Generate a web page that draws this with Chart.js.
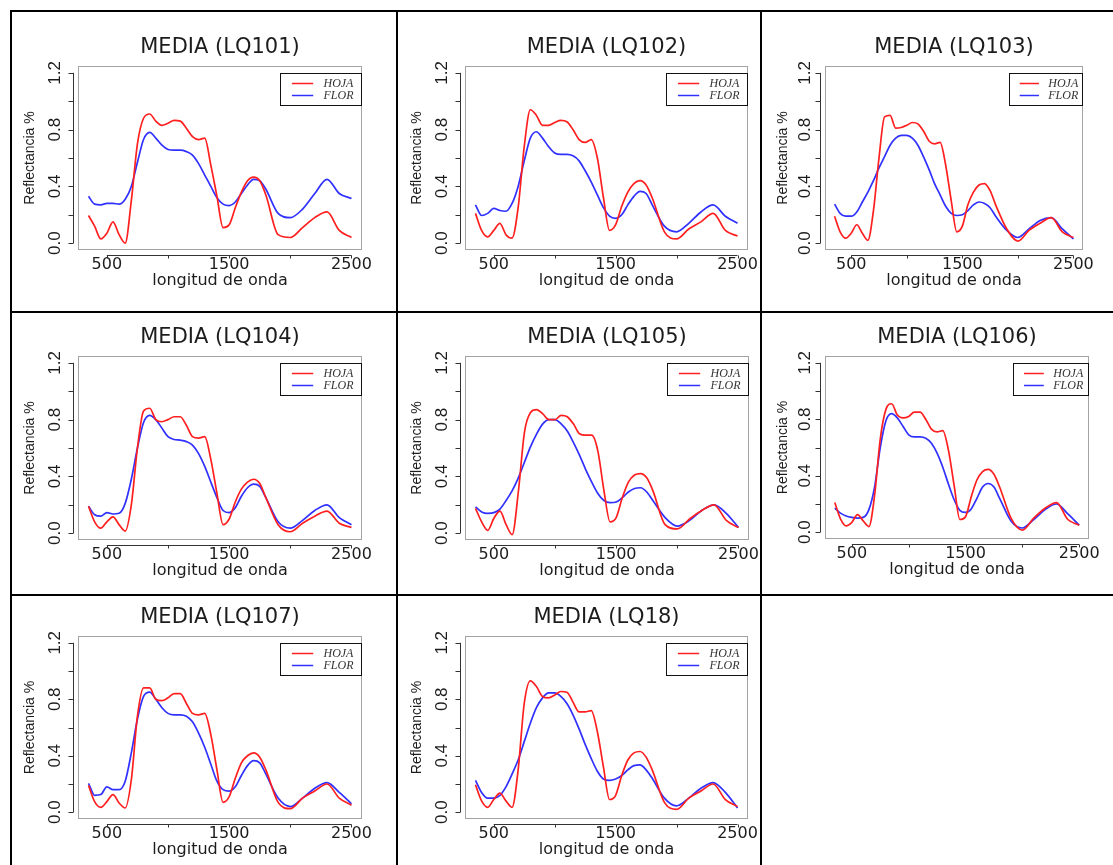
<!DOCTYPE html>
<html lang="es">
<head>
<meta charset="utf-8">
<title>Reflectancia media - HOJA / FLOR</title>
<script src="https://cdn.jsdelivr.net/npm/chart.js@4.4.1/dist/chart.umd.min.js"></script>
<style>
    html, body { margin: 0; padding: 0; background: #fff; }
    #lamina { position: relative; width: 1113px; height: 865px; overflow: hidden; background: #fff; }
    .linea { position: absolute; background: #000; }
</style>
</head>
<body>
<div id="lamina"></div>
<script>
// Longitudes de onda (nm) donde se leyeron los valores
const longitudes = [350, 400, 450, 500, 550, 600, 650, 700, 750, 800,
    850, 900, 950, 1000, 1050, 1100, 1150, 1200, 1250, 1300,
    1350, 1400, 1450, 1500, 1550, 1600, 1650, 1700, 1750, 1800,
    1900, 2000, 2100, 2200, 2300, 2400, 2500];

// Reflectancia media por muestra (HOJA = rojo, FLOR = azul)
const hojaLQ101 = [0.195, 0.12, 0.03, 0.07, 0.15, 0.06, 0.0, 0.30, 0.70, 0.88, 0.91, 0.86, 0.83, 0.845, 0.865, 0.86, 0.81, 0.75, 0.73, 0.74, 0.55, 0.33, 0.11, 0.13, 0.25, 0.36, 0.44, 0.465, 0.44, 0.34, 0.06, 0.04, 0.11, 0.18, 0.22, 0.09, 0.04];
const florLQ101 = [0.33, 0.275, 0.27, 0.28, 0.28, 0.275, 0.31, 0.40, 0.57, 0.73, 0.78, 0.74, 0.69, 0.66, 0.655, 0.655, 0.645, 0.62, 0.56, 0.48, 0.40, 0.32, 0.275, 0.265, 0.29, 0.35, 0.41, 0.45, 0.44, 0.38, 0.21, 0.18, 0.24, 0.35, 0.45, 0.35, 0.315];
const hojaLQ102 = [0.21, 0.09, 0.045, 0.09, 0.14, 0.06, 0.035, 0.25, 0.68, 0.94, 0.90, 0.83, 0.83, 0.85, 0.865, 0.855, 0.80, 0.73, 0.71, 0.73, 0.60, 0.32, 0.09, 0.13, 0.26, 0.36, 0.42, 0.44, 0.41, 0.32, 0.08, 0.03, 0.10, 0.15, 0.21, 0.09, 0.05];
const florLQ102 = [0.27, 0.195, 0.21, 0.245, 0.23, 0.225, 0.28, 0.40, 0.58, 0.74, 0.785, 0.74, 0.68, 0.635, 0.625, 0.625, 0.615, 0.58, 0.51, 0.43, 0.34, 0.25, 0.19, 0.175, 0.20, 0.27, 0.33, 0.365, 0.35, 0.27, 0.12, 0.08, 0.14, 0.22, 0.27, 0.19, 0.14];
const hojaLQ103 = [0.19, 0.08, 0.035, 0.07, 0.13, 0.07, 0.02, 0.23, 0.60, 0.89, 0.90, 0.81, 0.815, 0.83, 0.85, 0.84, 0.79, 0.72, 0.70, 0.71, 0.55, 0.30, 0.08, 0.12, 0.27, 0.36, 0.41, 0.42, 0.37, 0.27, 0.10, 0.015, 0.09, 0.14, 0.18, 0.08, 0.04];
const florLQ103 = [0.275, 0.21, 0.19, 0.19, 0.22, 0.29, 0.36, 0.44, 0.53, 0.61, 0.69, 0.74, 0.76, 0.76, 0.74, 0.69, 0.61, 0.52, 0.42, 0.34, 0.26, 0.21, 0.195, 0.20, 0.23, 0.27, 0.29, 0.28, 0.25, 0.19, 0.09, 0.04, 0.10, 0.16, 0.18, 0.10, 0.03];
const hojaLQ104 = [0.19, 0.08, 0.035, 0.08, 0.115, 0.06, 0.015, 0.20, 0.60, 0.86, 0.88, 0.80, 0.785, 0.80, 0.82, 0.82, 0.76, 0.68, 0.67, 0.68, 0.52, 0.28, 0.06, 0.10, 0.22, 0.31, 0.36, 0.38, 0.35, 0.25, 0.06, 0.01, 0.07, 0.12, 0.155, 0.07, 0.04];
const florLQ104 = [0.19, 0.13, 0.12, 0.145, 0.135, 0.14, 0.21, 0.38, 0.60, 0.78, 0.83, 0.80, 0.74, 0.68, 0.66, 0.655, 0.645, 0.62, 0.56, 0.47, 0.36, 0.25, 0.16, 0.145, 0.18, 0.26, 0.32, 0.345, 0.33, 0.25, 0.08, 0.035, 0.09, 0.16, 0.20, 0.11, 0.06];
const hojaLQ105 = [0.175, 0.08, 0.02, 0.105, 0.155, 0.06, -0.01, 0.29, 0.71, 0.85, 0.87, 0.84, 0.80, 0.80, 0.83, 0.82, 0.77, 0.70, 0.69, 0.69, 0.58, 0.30, 0.08, 0.11, 0.25, 0.36, 0.41, 0.42, 0.39, 0.30, 0.06, 0.03, 0.10, 0.16, 0.20, 0.09, 0.04];
const florLQ105 = [0.185, 0.15, 0.14, 0.145, 0.17, 0.23, 0.30, 0.39, 0.50, 0.61, 0.70, 0.77, 0.80, 0.80, 0.77, 0.72, 0.64, 0.55, 0.45, 0.36, 0.28, 0.23, 0.215, 0.22, 0.25, 0.29, 0.315, 0.32, 0.29, 0.23, 0.11, 0.05, 0.09, 0.16, 0.20, 0.14, 0.04];
const hojaLQ106 = [0.21, 0.095, 0.045, 0.07, 0.125, 0.08, 0.04, 0.26, 0.66, 0.87, 0.91, 0.83, 0.81, 0.82, 0.85, 0.85, 0.80, 0.73, 0.71, 0.72, 0.58, 0.33, 0.09, 0.11, 0.25, 0.37, 0.43, 0.445, 0.41, 0.32, 0.10, 0.015, 0.10, 0.17, 0.21, 0.09, 0.05];
const florLQ106 = [0.17, 0.135, 0.115, 0.105, 0.10, 0.105, 0.16, 0.32, 0.60, 0.79, 0.84, 0.81, 0.75, 0.69, 0.675, 0.675, 0.665, 0.63, 0.56, 0.46, 0.34, 0.23, 0.155, 0.14, 0.165, 0.24, 0.32, 0.345, 0.32, 0.24, 0.08, 0.03, 0.09, 0.16, 0.20, 0.13, 0.05];
const hojaLQ107 = [0.19, 0.075, 0.035, 0.075, 0.125, 0.065, 0.03, 0.23, 0.68, 0.88, 0.88, 0.80, 0.79, 0.81, 0.84, 0.84, 0.77, 0.70, 0.69, 0.70, 0.55, 0.30, 0.07, 0.11, 0.24, 0.35, 0.40, 0.42, 0.39, 0.30, 0.07, 0.025, 0.10, 0.15, 0.20, 0.10, 0.05];
const florLQ107 = [0.205, 0.12, 0.125, 0.18, 0.16, 0.16, 0.22, 0.42, 0.66, 0.82, 0.85, 0.80, 0.74, 0.70, 0.69, 0.69, 0.68, 0.64, 0.56, 0.46, 0.34, 0.22, 0.16, 0.15, 0.18, 0.26, 0.33, 0.365, 0.35, 0.27, 0.10, 0.04, 0.10, 0.17, 0.21, 0.14, 0.06];
const hojaLQ18 = [0.195, 0.08, 0.035, 0.09, 0.135, 0.08, 0.035, 0.30, 0.77, 0.93, 0.89, 0.82, 0.81, 0.83, 0.855, 0.85, 0.78, 0.71, 0.71, 0.72, 0.57, 0.32, 0.09, 0.12, 0.26, 0.37, 0.42, 0.43, 0.39, 0.30, 0.07, 0.02, 0.10, 0.15, 0.20, 0.09, 0.04];
const florLQ18 = [0.225, 0.14, 0.10, 0.10, 0.12, 0.18, 0.27, 0.37, 0.50, 0.63, 0.74, 0.81, 0.845, 0.845, 0.82, 0.77, 0.69, 0.59, 0.48, 0.38, 0.29, 0.235, 0.225, 0.235, 0.26, 0.30, 0.33, 0.335, 0.30, 0.24, 0.10, 0.045, 0.10, 0.17, 0.21, 0.14, 0.03];

const titulos = ['MEDIA (LQ101)', 'MEDIA (LQ102)', 'MEDIA (LQ103)', 'MEDIA (LQ104)',
    'MEDIA (LQ105)', 'MEDIA (LQ106)', 'MEDIA (LQ107)', 'MEDIA (LQ18)'];
const nombresSeries = ['HOJA', 'FLOR'];

// Ejes (estilo R: rango de datos + 4% a cada lado)
const rangoX = [350, 2500];
const rangoY = [0, 1.2];
const marcasX = [500, 1000, 1500, 2000, 2500];
const etiquetasX = [500, 1500, 2500];
const marcasY = [0, 0.2, 0.4, 0.6, 0.8, 1.0, 1.2];
const etiquetasY = [0, 0.4, 0.8, 1.2];

const ROJO = '#ff1f1f';
const AZUL = '#3030ff';
const TEXTO = '#1c1c1c';

const lamina = document.getElementById('lamina');

// Líneas de la tabla que contiene los gráficos
[
    [10, 10, 1103, 2], [10, 311, 1103, 2], [10, 594, 1103, 2],
    [10, 10, 2, 855], [396, 10, 2, 855], [760, 10, 2, 855]
].forEach(([l, t, w, h]) => {
    const d = document.createElement('div');
    d.className = 'linea';
    d.style.cssText = `left:${l}px;top:${t}px;width:${w}px;height:${h}px`;
    lamina.appendChild(d);
});

// Celdas: posición del lienzo y caja del área de trazado [izq, der, arriba, abajo]
const paneles = [
    { titulo: titulos[0], hoja: hojaLQ101, flor: florLQ101, x: 12,  y: 12,  w: 384, h: 299, caja: [66, 350, 54, 238], off: [-47.5, -23] },
    { titulo: titulos[1], hoja: hojaLQ102, flor: florLQ102, x: 398, y: 12,  w: 362, h: 299, caja: [67, 350, 54, 238], off: [-47.5, -23] },
    { titulo: titulos[2], hoja: hojaLQ103, flor: florLQ103, x: 762, y: 12,  w: 351, h: 299, caja: [63, 321, 54, 238], off: [-41.5, -20] },
    { titulo: titulos[3], hoja: hojaLQ104, flor: florLQ104, x: 12,  y: 313, w: 384, h: 281, caja: [66, 350, 43, 227], off: [-47.5, -23] },
    { titulo: titulos[4], hoja: hojaLQ105, flor: florLQ105, x: 398, y: 313, w: 362, h: 281, caja: [67, 351, 43, 227], off: [-47.5, -23] },
    { titulo: titulos[5], hoja: hojaLQ106, flor: florLQ106, x: 762, y: 313, w: 351, h: 281, caja: [63, 327, 43, 226], off: [-41.5, -20] },
    { titulo: titulos[6], hoja: hojaLQ107, flor: florLQ107, x: 12,  y: 596, w: 384, h: 269, caja: [66, 350, 40, 223], off: [-47.5, -23] },
    { titulo: titulos[7], hoja: hojaLQ18,  flor: florLQ18,  x: 398, y: 596, w: 362, h: 269, caja: [67, 350, 40, 223], off: [-47.5, -23] }
];

// Ancho de "0.0" para centrar las etiquetas giradas del eje Y
const medidor = document.createElement('canvas').getContext('2d');
medidor.font = '17px "Liberation Sans"';
const anchoEtiquetaY = medidor.measureText('0.0').width;

// Caja gris y ejes separados de la caja, como en los gráficos base de R
const ejesR = {
    id: 'ejesR',
    beforeDatasetsDraw(chart) {
        const { ctx, chartArea: a, scales: { x, y } } = chart;
        ctx.save();
        ctx.lineWidth = 1;
        ctx.strokeStyle = '#a3a3a3';
        ctx.strokeRect(Math.round(a.left) + 0.5, Math.round(a.top) + 0.5,
            Math.round(a.right - a.left) - 1, Math.round(a.bottom - a.top) - 1);

        ctx.strokeStyle = '#333';
        ctx.beginPath();
        const xe = Math.round(a.left - 5) + 0.5;
        ctx.moveTo(xe, y.getPixelForValue(marcasY[0]));
        ctx.lineTo(xe, y.getPixelForValue(marcasY[marcasY.length - 1]));
        marcasY.forEach(v => {
            const py = Math.round(y.getPixelForValue(v)) + 0.5;
            ctx.moveTo(xe, py);
            ctx.lineTo(xe - 5, py);
        });
        const ye = Math.round(a.bottom + 5) + 0.5;
        ctx.moveTo(x.getPixelForValue(marcasX[0]), ye);
        ctx.lineTo(x.getPixelForValue(marcasX[marcasX.length - 1]), ye);
        marcasX.forEach(v => {
            const px = Math.round(x.getPixelForValue(v)) + 0.5;
            ctx.moveTo(px, ye);
            ctx.lineTo(px, ye + 3);
        });
        ctx.stroke();
        ctx.restore();
    }
};

// Leyenda en la esquina superior derecha del área de trazado
const leyendaR = {
    id: 'leyendaR',
    afterDatasetsDraw(chart) {
        const { ctx, chartArea: a } = chart;
        const w = Math.round((a.right - a.left) * 0.288);
        const x0 = Math.round(a.right - w);
        const y0 = Math.round(a.top + 7);
        ctx.save();
        ctx.fillStyle = '#fff';
        ctx.fillRect(x0, y0, w, 32);
        ctx.strokeStyle = '#111';
        ctx.lineWidth = 1;
        ctx.strokeRect(x0 + 0.5, y0 + 0.5, w - 1, 32);
        ctx.font = 'italic 12px "Liberation Serif"';
        ctx.textBaseline = 'middle';
        chart.data.datasets.forEach((ds, i) => {
            const yy = y0 + 10.5 + i * 12;
            ctx.strokeStyle = ds.borderColor;
            ctx.lineWidth = 1.5;
            ctx.beginPath();
            ctx.moveTo(x0 + w * 0.145, yy);
            ctx.lineTo(x0 + w * 0.405, yy);
            ctx.stroke();
            ctx.fillStyle = '#333';
            ctx.fillText(ds.label, x0 + w * 0.53, yy);
        });
        ctx.restore();
    }
};

function crearGrafico(p) {
    const canvas = document.createElement('canvas');
    canvas.width = p.w;
    canvas.height = p.h;
    canvas.style.cssText = `position:absolute;left:${p.x}px;top:${p.y}px;width:${p.w}px;height:${p.h}px`;
    lamina.appendChild(canvas);

    const [izq, der, arr, aba] = p.caja;
    const altoEjeX = 40.6;
    const extX = (rangoX[1] - rangoX[0]) * 0.04;
    const extY = (rangoY[1] - rangoY[0]) * 0.04;
    const serie = (valores) => longitudes.map((l, i) => ({ x: l, y: valores[i] }));

    new Chart(canvas, {
        type: 'line',
        data: {
            datasets: [
                { label: nombresSeries[0], data: serie(p.hoja), borderColor: ROJO },
                { label: nombresSeries[1], data: serie(p.flor), borderColor: AZUL }
            ]
        },
        options: {
            responsive: false,
            animation: false,
            events: [],
            elements: {
                point: { radius: 0 },
                line: { borderWidth: 1.7, cubicInterpolationMode: 'monotone', fill: false }
            },
            layout: { padding: { left: 0, top: 0, right: p.w - der, bottom: p.h - aba - altoEjeX } },
            plugins: {
                legend: { display: false },
                tooltip: { enabled: false },
                title: {
                    display: true,
                    text: p.titulo,
                    fullSize: false,
                    color: TEXTO,
                    font: { family: 'DejaVu Sans', size: 21, weight: 'normal' },
                    padding: { top: arr - 30.6, bottom: 5.4 }
                }
            },
            scales: {
                x: {
                    type: 'linear',
                    bounds: 'data',
                    min: rangoX[0] - extX,
                    max: rangoX[1] + extX,
                    afterBuildTicks: s => { s.ticks = marcasX.map(v => ({ value: v })); },
                    afterFit: s => { s.height = altoEjeX; s.paddingLeft = 0; s.paddingRight = 0; },
                    grid: { display: false, drawTicks: false },
                    border: { display: false },
                    ticks: {
                        autoSkip: false,
                        maxRotation: 0,
                        padding: 5.4,
                        color: TEXTO,
                        font: { family: 'DejaVu Sans', size: 16 },
                        callback: v => etiquetasX.includes(v) ? String(v) : ''
                    },
                    title: {
                        display: true,
                        text: 'longitud de onda',
                        color: TEXTO,
                        font: { family: 'DejaVu Sans', size: 16 },
                        padding: 0
                    }
                },
                y: {
                    type: 'linear',
                    bounds: 'data',
                    min: rangoY[0] - extY,
                    max: rangoY[1] + extY,
                    afterBuildTicks: s => { s.ticks = marcasY.map(v => ({ value: v })); },
                    afterFit: s => { s.width = izq; s.paddingTop = 0; s.paddingBottom = 0; },
                    grid: { display: false, drawTicks: false },
                    border: { display: false },
                    ticks: {
                        autoSkip: false,
                        minRotation: 90,
                        maxRotation: 90,
                        crossAlign: 'center',
                        padding: -p.off[1] - anchoEtiquetaY / 2,
                        color: TEXTO,
                        font: { family: 'Liberation Sans', size: 17 },
                        callback: v => etiquetasY.some(e => Math.abs(e - v) < 1e-9) ? v.toFixed(1) : ''
                    },
                    title: {
                        display: true,
                        text: 'Reflectancia %',
                        color: TEXTO,
                        font: { family: 'Liberation Sans', size: 14 },
                        padding: { top: izq + p.off[0] - 8.4, bottom: 0 }
                    }
                }
            }
        },
        plugins: [ejesR, leyendaR]
    });
}

paneles.forEach(crearGrafico);
</script>
</body>
</html>
